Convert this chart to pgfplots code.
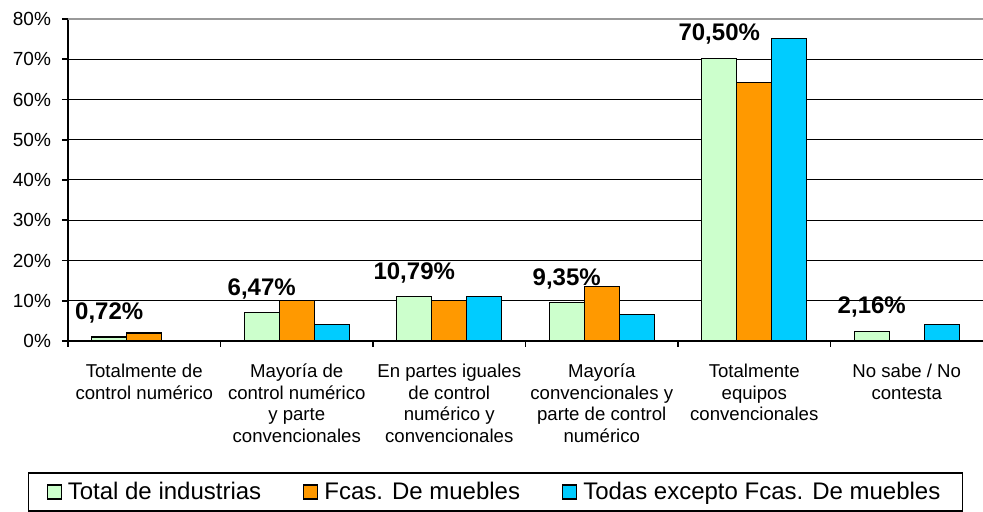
\documentclass[border=0pt]{standalone}
\usepackage{fontspec}
\setmainfont{Liberation Sans}
\usepackage{pgfplots}
\usepackage{pgfplotstable}
\pgfplotsset{compat=1.18}
\definecolor{TotGreen}{HTML}{CCFFCC}
\definecolor{MuebOrange}{HTML}{FF9900}
\definecolor{RestBlue}{HTML}{00CCFF}

% x: category index, values in percent, lab: printed label of the first series
\pgfplotstableread{
x total muebles resto lab
0 1.0  2.0  nan  0,72\%
1 7.0  10.0 4.1  6,47\%
2 11.0 10.0 11.0 10,79\%
3 9.5  13.5 6.5  9,35\%
4 70.2 64.3 75.1 70,50\%
5 2.4  nan  4.1  2,16\%
}\datatab

\begin{document}
\begin{tikzpicture}
\begin{axis}[
  at={(0,0)},anchor=south west,
  scale only axis,
  width=457.5pt,height=161pt,
  xmin=-0.5,xmax=5.5,ymin=0,ymax=80,
  ybar=0pt,bar width=17.5pt,
  legend image code/.code={\draw[#1,line width=0.6pt] (0pt,-3.5pt) rectangle (7pt,3.5pt);},
  axis lines*=left,
  axis line style={line width=1pt,-},
  tick align=outside,
  major tick length=3pt,minor tick length=3pt,
  tick style={black,line width=0.8pt},
  xtick={0,...,5},
  major x tick style={draw=none},
  minor xtick={-0.5,0.5,...,4.5},
  xticklabels={
    {Totalmente de\\control numérico},
    {Mayoría de\\control numérico\\y parte\\convencionales},
    {En partes iguales\\de control\\numérico y\\convencionales},
    {Mayoría\\convencionales y\\parte de control\\numérico},
    {Totalmente\\equipos\\convencionales},
    {No sabe / No\\contesta}},
  xticklabel style={align=center,font=\fontsize{9.3}{10.8}\selectfont,yshift=-5pt},
  ytick={0,10,...,70},
  yticklabel={\pgfmathprintnumber{\tick}\%},
  yticklabel style={font=\fontsize{9.5}{11}\selectfont,xshift=-2pt},
  /pgf/number format/assume math mode=true,
  ymajorgrids,
  grid style={black,line width=0.5pt},
  extra y ticks={80},
  extra y tick labels={80\%},
  extra y tick style={grid=major,grid style={gray!80,line width=0.9pt}},
  legend columns=3,
  legend style={at={(0.4672,-0.469)},anchor=center,draw=black,line width=0.75pt,
    font=\fontsize{12}{14}\selectfont,inner xsep=9pt,inner ysep=2.5pt,
    cells={anchor=west},
    /tikz/every odd column/.append style={column sep=1pt},
    /tikz/every even column/.append style={column sep=19pt}},
]
\addplot[fill=TotGreen,draw=black,line width=0.6pt,
  point meta=explicit symbolic,nodes near coords,
  every node near coord/.append style={anchor=center,yshift=12pt,
    font=\bfseries\fontsize{12}{14}\selectfont,black}]
  table[x=x,y=total,meta=lab]{\datatab};
\addplot[fill=MuebOrange,draw=black,line width=0.6pt] table[x=x,y=muebles]{\datatab};
\addplot[fill=RestBlue,draw=black,line width=0.6pt] table[x=x,y=resto]{\datatab};
\legend{Total de industrias,Fcas. De muebles,Todas excepto Fcas. De muebles}
\end{axis}
\pgfresetboundingbox
\path (-34pt,-85.5pt) rectangle (457.5pt,170.5pt);
\end{tikzpicture}
\end{document}
